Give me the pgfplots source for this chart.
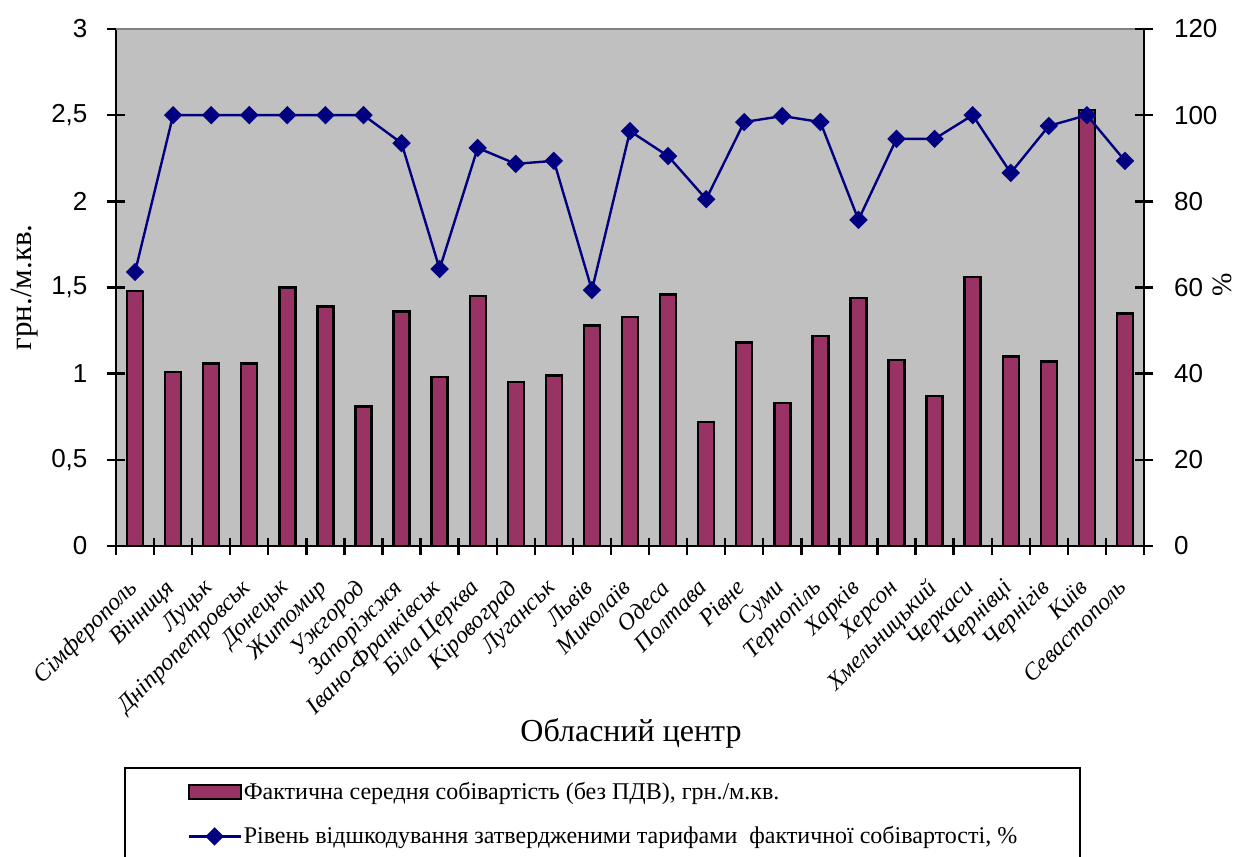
\documentclass[border=0pt]{standalone}
\usepackage{pgfplots}
\pgfplotsset{compat=1.18}
\usepackage{pgfplotstable}
\usepackage{fontspec}
\setmainfont{Liberation Serif}
\newfontfamily\arial{Liberation Sans}
\definecolor{barc}{HTML}{993366}
\definecolor{linec}{HTML}{000080}
\definecolor{bgc}{HTML}{C0C0C0}
\definecolor{topc}{HTML}{808080}

\pgfplotstableread{
idx cost level
0  1.48 63.6
1  1.01 100
2  1.06 100
3  1.06 100
4  1.50 100
5  1.39 100
6  0.81 100
7  1.36 93.5
8  0.98 64.3
9  1.45 92.4
10 0.95 88.7
11 0.99 89.4
12 1.28 59.4
13 1.33 96.3
14 1.46 90.5
15 0.72 80.5
16 1.18 98.4
17 0.83 99.8
18 1.22 98.4
19 1.44 75.7
20 1.08 94.5
21 0.87 94.5
22 1.56 100
23 1.10 86.6
24 1.07 97.5
25 2.53 100
26 1.35 89.4
}\data

\begin{document}
\begin{tikzpicture}
\useasboundingbox (-58pt,-155pt) rectangle (559.5pt,273pt);
\begin{axis}[
  scale only axis, width=514pt, height=258.5pt,
  xmin=-0.5, xmax=26.5, ymin=0, ymax=3,
  axis x line*=bottom, axis y line*=left,
  axis line style={line width=1.2pt, black},
  axis background/.style={fill=bgc},
  tick align=center,
  tick style={line width=1.2pt, black},
  major tick length=8.5pt,
  xtick={-0.5,0.5,...,26.5}, xticklabels={},
  extra x ticks={0,1,...,26},
  extra x tick labels={Сімферополь,Вінниця,Луцьк,Дніпропетровськ,Донецьк,Житомир,Ужгород,Запоріжжя,Івано-Франківськ,Біла Церква,Кіровоград,Луганськ,Львів,Миколаїв,Одеса,Полтава,Рівне,Суми,Тернопіль,Харків,Херсон,Хмельницький,Черкаси,Чернівці,Чернігів,Київ,Севастополь},
  extra x tick style={tick style={draw=none}, tick label style={xshift=-4.5pt, yshift=-10pt, rotate=45, anchor=north east, inner sep=1pt, font=\itshape\fontsize{12}{13}\selectfont}},
  ytick={0,0.5,...,3},
  /pgf/number format/use comma,
  /pgf/number format/assume math mode=true,
  yticklabel style={font=\arial\fontsize{13}{15}\selectfont, xshift=-6.5pt},
  ylabel={грн./м.кв.},
  ylabel style={at={(axis description cs:-0.0885,0.5)}, rotate=0, anchor=center, font=\fontsize{15.5}{17}\selectfont},
  xlabel={Обласний центр},
  xlabel style={at={(axis description cs:0.501,-0.3617)}, anchor=center, font=\fontsize{16}{18}\selectfont},
  legend style={at={(0.0632,-0.4443)}, anchor=north west, draw=none, fill=none,
    font=\fontsize{12}{14}\selectfont, row sep=10pt, nodes={inner sep=1pt}},
  legend cell align=left,
]
\draw[topc, line width=0.8pt] (rel axis cs:0,1) -- (rel axis cs:1,1);
\addplot[fill=barc, draw=black, line width=1.2pt, ybar, bar width=8pt,
  legend image code/.code={\draw[fill=barc, draw=black, line width=1pt] (0pt,-3.5pt) rectangle (26pt,3.5pt);}]
  table[x=idx, y=cost] {\data};
\addlegendentry{Фактична середня собівартість (без ПДВ), грн./м.кв.}
\addlegendimage{linec, legend image code/.code={\draw[linec, line width=1.2pt, mark=square*, mark size=2.65pt, mark options={rotate=45, solid}, mark repeat=2, mark phase=2] plot coordinates {(0pt,0pt) (13pt,0pt) (26pt,0pt)};}}
\addlegendentry{Рівень відшкодування затвердженими тарифами \ фактичної собівартості, \%}
\end{axis}
\begin{axis}[
  scale only axis, width=514pt, height=258.5pt,
  xmin=-0.5, xmax=26.5, ymin=0, ymax=120,
  axis x line=none, axis y line*=right,
  axis line style={line width=1.2pt, black},
  tick align=center,
  tick style={line width=1.2pt, black},
  major tick length=9pt,
  ytick={0,20,...,120},
  /pgf/number format/assume math mode=true,
  yticklabel style={font=\arial\fontsize{13}{15}\selectfont, xshift=7pt},
  ylabel={\%},
  ylabel style={at={(axis description cs:1.0759,0.505)}, rotate=0, anchor=center, inner sep=0pt, font=\fontsize{14}{15}\selectfont},
  clip=false,
]
\addplot[linec, line width=1.2pt, mark=square*, mark size=2.65pt, mark options={rotate=45, solid}]
  table[x=idx, y=level] {\data};
\end{axis}
\draw[black, line width=1pt] (4.5pt,-111pt) rectangle (482pt,-170pt);
\end{tikzpicture}
\end{document}
